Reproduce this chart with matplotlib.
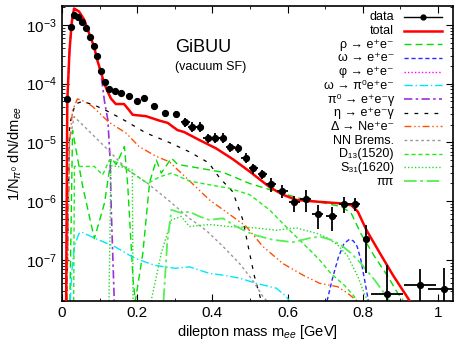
import matplotlib
matplotlib.use('Agg')
import matplotlib.pyplot as plt
from matplotlib.ticker import LogLocator, MultipleLocator, NullFormatter

plt.rcParams['font.family'] = ['Liberation Sans', 'DejaVu Sans']
plt.rcParams['mathtext.fontset'] = 'custom'
plt.rcParams['mathtext.rm'] = 'Liberation Sans'
plt.rcParams['mathtext.it'] = 'Liberation Sans:italic'
plt.rcParams['mathtext.bf'] = 'Liberation Sans:bold'

# HADES-like data points
data_x = [0.013, 0.025, 0.032, 0.043, 0.052, 0.063, 0.074, 0.084, 0.094, 0.103, 0.114,
          0.125, 0.14, 0.158, 0.177, 0.199, 0.219, 0.245, 0.273, 0.303,
          0.328, 0.347, 0.367, 0.388, 0.408, 0.427, 0.447, 0.468, 0.489, 0.509, 0.533,
          0.556, 0.586, 0.618, 0.648, 0.68, 0.717, 0.75, 0.778, 0.809, 0.865, 0.952, 1.016]
data_y = [5.5e-5, 9.3e-4, 1.45e-3, 1.38e-3, 1.12e-3, 8.7e-4, 6.2e-4, 4.3e-4, 2.95e-4, 1.62e-4, 1.07e-4,
          8.1e-5, 7.4e-5, 6.9e-5, 6.2e-5, 5.1e-5, 5.8e-5, 4.1e-5, 3.2e-5, 3.1e-5,
          2.2e-5, 1.86e-5, 1.86e-5, 1.17e-5, 1.2e-5, 1.2e-5, 8.3e-6, 7.9e-6, 5.5e-6, 3.6e-6, 2.9e-6,
          1.95e-6, 1.5e-6, 9.5e-7, 1.1e-6, 6.0e-7, 5.6e-7, 8.9e-7, 8.9e-7, 2.3e-7, 2.6e-8, 3.7e-8, 3.2e-8]
data_yerr = [2e-6, 4e-5, 6e-5, 6e-5, 5e-5, 4e-5, 3e-5, 2e-5, 1.5e-5, 8e-6, 5e-6,
             9e-6, 8e-6, 7.5e-6, 7e-6, 6e-6, 6.5e-6, 4.5e-6, 3.5e-6, 3.5e-6,
             4e-6, 3.4e-6, 3.4e-6, 2.1e-6, 2.2e-6, 2.2e-6, 1.5e-6, 1.4e-6, 1.0e-6, 6.5e-7, 5.2e-7,
             5e-7, 3.7e-7, 2.9e-7, 4.4e-7, 2.7e-7, 2.5e-7, 2.7e-7, 2.2e-7, 1.7e-7, 5.7e-8, 3.4e-8, 4.0e-8]
data_xerr = [0.004] * 11 + [0.008] * 9 + [0.012] * 11 + [0.014] * 8 + [0.005, 0.042, 0.043, 0.043]

# model curves (GiBUU, vacuum spectral functions)
total_x = [0.011, 0.014, 0.02, 0.026, 0.032, 0.045, 0.059, 0.072, 0.085, 0.094, 0.103, 0.112, 0.121,
           0.13, 0.143, 0.165, 0.179, 0.188, 0.223, 0.259, 0.281, 0.307, 0.325, 0.365, 0.41, 0.454,
           0.499, 0.552, 0.587, 0.623, 0.66, 0.747, 0.77, 0.787, 0.81, 0.845, 0.881, 0.925]
total_y = [2e-8, 5e-5, 3.7e-4, 1.12e-3, 1.9e-3, 1.7e-3, 1.23e-3, 7.2e-4, 4.3e-4, 2.5e-4, 1.62e-4, 1.02e-4, 7.4e-5,
           5.6e-5, 4.5e-5, 4.5e-5, 3.5e-5, 2.95e-5, 2.8e-5, 2.35e-5, 2.15e-5, 1.62e-5, 1.5e-5, 1.1e-5, 7.9e-6, 5.2e-6,
           3.2e-6, 1.74e-6, 1.29e-6, 1.05e-6, 1.0e-6, 9.1e-7, 8.5e-7, 6.6e-7, 3.2e-7, 1.32e-7, 5.4e-8, 2e-8]

rho_x = [0.021, 0.028, 0.055, 0.086, 0.113, 0.131, 0.144, 0.166, 0.175, 0.189, 0.195, 0.215, 0.233, 0.251,
         0.264, 0.291, 0.308, 0.339, 0.428, 0.499, 0.57, 0.632, 0.68, 0.742, 0.769, 0.795, 0.831, 0.867,
         0.893, 0.907]
rho_y = [2e-8, 1.6e-5, 1.78e-6, 2.3e-7, 9.3e-7, 5.4e-6, 4.2e-6, 8.5e-6, 1.78e-6, 4.6e-8, 2e-8, 1.3e-7, 2.1e-6, 5e-6,
         3e-6, 5.4e-6, 4.2e-6, 3.9e-6, 3.1e-6, 2.0e-6, 1.45e-6, 1.12e-6, 9.8e-7, 8.1e-7, 6.3e-7, 2.8e-7, 1.15e-7, 5.2e-8,
         2.7e-8, 2.1e-8]

omega_x = [0.705, 0.72, 0.735, 0.75, 0.765, 0.775, 0.785, 0.795, 0.805, 0.815]
omega_y = [2e-8, 5e-8, 1.1e-7, 1.9e-7, 2.25e-7, 2.1e-7, 1.7e-7, 1e-7, 4.5e-8, 2e-8]

phi_x = []
phi_y = []

omdal_x = [0.022, 0.026, 0.033, 0.045, 0.051, 0.086, 0.139, 0.193, 0.246, 0.3, 0.339, 0.392, 0.428, 0.472,
           0.516, 0.57, 0.596, 0.605]
omdal_y = [2e-8, 6.3e-8, 1.7e-7, 2.8e-7, 3.0e-7, 2.35e-7, 1.7e-7, 1.07e-7, 8.1e-8, 7.2e-8, 7.6e-8, 5.9e-8, 5.5e-8,
           4.9e-8, 4e-8, 3.3e-8, 2.4e-8, 2e-8]

pi0_x = [0.011, 0.014, 0.02, 0.026, 0.032, 0.045, 0.059, 0.072, 0.085, 0.094, 0.102, 0.108, 0.113, 0.122,
         0.128, 0.131, 0.139]
pi0_y = [2e-8, 5e-5, 3.7e-4, 1.1e-3, 1.8e-3, 1.7e-3, 1.2e-3, 7.2e-4, 4.2e-4, 2.5e-4, 1.6e-4, 9e-5, 5e-5, 2.4e-5,
         5e-6, 7e-7, 2e-8]

eta_x = [0.013, 0.02, 0.035, 0.055, 0.09, 0.125, 0.17, 0.223, 0.285, 0.339, 0.39, 0.419, 0.454, 0.481, 0.499,
         0.512, 0.53]
eta_y = [2e-8, 2e-5, 4.5e-5, 5e-5, 4.2e-5, 3.3e-5, 2.3e-5, 1.45e-5, 1.0e-5, 6.9e-6, 4.5e-6, 2.5e-6, 1.45e-6,
         4.8e-7, 1.3e-7, 5.2e-8, 2e-8]

delta_x = [0.013, 0.02, 0.028, 0.041, 0.06, 0.081, 0.125, 0.17, 0.205, 0.25, 0.285, 0.343, 0.392, 0.436, 0.49,
           0.534, 0.587, 0.641, 0.685, 0.733, 0.76, 0.787]
delta_y = [2e-8, 1e-5, 3.5e-5, 5.5e-5, 5e-5, 4.1e-5, 2.2e-5, 1.45e-5, 8.5e-6, 5.8e-6, 4.7e-6, 2.1e-6, 1.05e-6,
           6.6e-7, 3.7e-7, 1.7e-7, 8.7e-8, 5.5e-8, 4e-8, 3.5e-8, 2.7e-8, 1.95e-8]

brems_x = [0.013, 0.02, 0.032, 0.051, 0.099, 0.175, 0.228, 0.282, 0.339, 0.383, 0.428, 0.472, 0.506, 0.534, 0.545]
brems_y = [2e-8, 1e-5, 2.75e-5, 2.1e-5, 1.05e-5, 3.4e-6, 2.0e-6, 1.05e-6, 5.1e-7, 3.2e-7, 1.7e-7, 8.7e-8, 4.6e-8,
           2.4e-8, 2e-8]

d13_x = [0.031, 0.033, 0.051, 0.086, 0.108, 0.126, 0.15, 0.175, 0.228, 0.26, 0.291, 0.339, 0.392, 0.445, 0.499,
         0.552, 0.605, 0.659, 0.685, 0.715, 0.751, 0.777, 0.785]
d13_y = [2e-8, 3.9e-6, 3.9e-6, 3.9e-6, 2.8e-6, 5e-6, 4.5e-6, 3.4e-6, 2.0e-6, 2.6e-6, 3.0e-6, 2.2e-6, 1.9e-6, 1.66e-6,
         1.29e-6, 7.1e-7, 3.2e-7, 1.48e-7, 1.0e-7, 5.9e-8, 3.7e-8, 2.4e-8, 2e-8]

s31_x = [0.125, 0.13, 0.16, 0.187, 0.189, 0.237, 0.264, 0.291, 0.317, 0.339, 0.392, 0.445, 0.516, 0.57, 0.623,
         0.68, 0.707, 0.733, 0.76, 0.787, 0.804, 0.813]
s31_y = [2e-8, 4e-6, 3.8e-6, 3.4e-6, 2e-8, 2e-8, 1.3e-7, 4.8e-7, 5.5e-7, 3.7e-7, 4.0e-7, 3.7e-7, 3.5e-7, 3.2e-7,
         3.5e-7, 2.8e-7, 2.35e-7, 1.8e-7, 1.15e-7, 5.2e-8, 2.7e-8, 2e-8]

pipi_x = [0.27, 0.28, 0.291, 0.317, 0.339, 0.365, 0.392, 0.428, 0.463, 0.508, 0.561, 0.614, 0.659, 0.685, 0.715,
          0.742, 0.769, 0.795, 0.831, 0.857, 0.871]
pipi_y = [2e-8, 2e-7, 7.1e-7, 6.3e-7, 6.6e-7, 5.5e-7, 4.8e-7, 5.1e-7, 3.7e-7, 2.7e-7, 2.2e-7, 2.0e-7, 2.35e-7,
          2.5e-7, 2.2e-7, 1.8e-7, 1.3e-7, 8.7e-8, 4.6e-8, 2.7e-8, 2e-8]

# label, x, y, line style
curves = [
    ('total', total_x, total_y, dict(color='#ff0000', lw=1.8, zorder=9)),
    ('ρ → e⁺e⁻', rho_x, rho_y, dict(color='#00e000', lw=1.0, dashes=(5, 3))),
    ('ω → e⁺e⁻', omega_x, omega_y, dict(color='#2a2aff', lw=1.0, dashes=(3, 2))),
    ('φ → e⁺e⁻', phi_x, phi_y, dict(color='#ff00ff', lw=1.0, dashes=(1, 1.5))),
    ('ω → π⁰e⁺e⁻', omdal_x, omdal_y, dict(color='#00e6ff', lw=1.0, dashes=(6, 2, 1, 2))),
    ('π⁰ → e⁺e⁻γ', pi0_x, pi0_y, dict(color='#9b30e0', lw=1.2, dashes=(5, 2, 1.5, 2))),
    ('η → e⁺e⁻γ', eta_x, eta_y, dict(color='black', lw=0.9, dashes=(3, 5))),
    ('Δ → Ne⁺e⁻', delta_x, delta_y, dict(color='#ff5000', lw=1.0, dashes=(5, 2, 1, 2, 1, 2))),
    ('NN Brems.', brems_x, brems_y, dict(color='#999999', lw=1.0, dashes=(2, 2))),
    ('D₁₃(1520)', d13_x, d13_y, dict(color='#22ee22', lw=1.0, dashes=(3, 2))),
    ('S₃₁(1620)', s31_x, s31_y, dict(color='#22dd22', lw=1.0, dashes=(1, 1.5))),
    ('ππ', pipi_x, pipi_y, dict(color='#55ee55', lw=1.3, dashes=(7, 2, 1.5, 2))),
]

fig = plt.figure(figsize=(4.55, 3.42), dpi=100)
ax = fig.add_axes([0.1363, 0.12, 0.8593, 0.8625])

ax.errorbar(data_x, data_y, yerr=data_yerr, xerr=data_xerr, fmt='o', color='black', ms=4.2,
            elinewidth=1.3, capsize=0, zorder=10)
for label, xs, ys, style in curves:
    ax.plot(xs, ys, **style)

ax.set_yscale('log')
ax.set_xlim(0, 1.04)
ax.set_ylim(2e-8, 2.1e-3)
ax.xaxis.set_major_locator(MultipleLocator(0.2))
ax.xaxis.set_minor_locator(MultipleLocator(0.1))
ax.xaxis.set_major_formatter(plt.FuncFormatter(lambda v, p: '%g' % round(v, 1)))
ax.yaxis.set_minor_locator(LogLocator(base=10, subs=range(2, 10), numticks=20))
ax.yaxis.set_minor_formatter(NullFormatter())
ax.tick_params(which='both', direction='in', top=True, right=True, labelsize=11)
ax.tick_params(which='major', length=5, width=0.8)
ax.tick_params(which='minor', length=2.5, width=0.6)
for s in ax.spines.values():
    s.set_linewidth(1.2)

ax.set_xlabel(r'dilepton mass m$_{ee}$ [GeV]', fontsize=10.5, labelpad=2)
ax.set_ylabel(r'1/N$_{\pi^0}$ dN/dm$_{ee}$', fontsize=10.5, labelpad=2)

ax.text(0.29, 0.858, 'GiBUU', transform=ax.transAxes, fontsize=13, va='center')
ax.text(0.29, 0.793, '(vacuum SF)', transform=ax.transAxes, fontsize=9, va='center')

# key in gnuplot style: text right-aligned, sample on the right, fixed row pitch
key_text_x = 0.849
key_x0, key_x1 = 0.874, 0.972
row_top, row_step = 0.963, 0.0464
keys = [('data', dict(color='black', lw=1.0))] + [(c[0], c[3]) for c in curves]
for i, (label, style) in enumerate(keys):
    yk = row_top - i * row_step
    st = {k: v for k, v in style.items() if k != 'zorder'}
    ax.plot([key_x0, key_x1], [yk, yk], transform=ax.transAxes, clip_on=False, **st)
    if label == 'data':
        ax.plot([(key_x0 + key_x1) / 2], [yk], 'o', color='black', ms=3.5, transform=ax.transAxes)
    ax.text(key_text_x, yk - 0.012, label, transform=ax.transAxes, fontsize=9, ha='right', va='baseline')

fig.savefig('out.png', dpi=100)
